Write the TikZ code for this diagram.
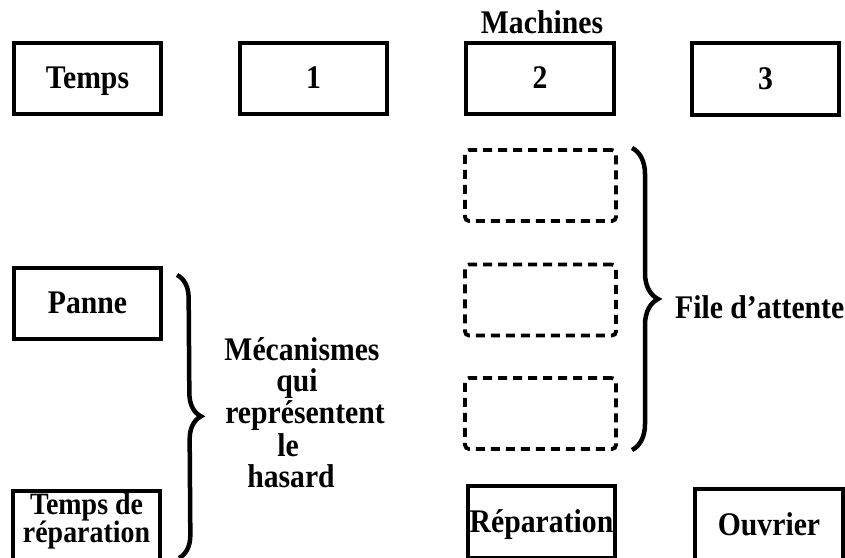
\documentclass[tikz,border=0pt]{standalone}
\usepackage{fontspec}
\setmainfont{Liberation Serif}[FakeStretch=0.9]
\usetikzlibrary{decorations.pathreplacing}
\begin{document}
\begin{tikzpicture}[x=1pt,y=-1pt,
  lbl/.style={font=\fontsize{33}{26}\selectfont\bfseries, inner sep=0pt},
  box/.style={lbl, draw, line width=3.8pt, minimum width=147.5pt, minimum height=71.5pt, align=center, text height=22pt, text depth=2pt},
  qbox/.style={draw, dash pattern=on 9pt off 6pt, line width=3.8pt, rounded corners=4pt, minimum width=151pt, minimum height=71pt, inner sep=0pt},
  bracestyle/.style={draw, line width=4.5pt, decorate, decoration={brace, amplitude=#1}}
]
\useasboundingbox (0,0) rectangle (845,557);
\clip (0,0) rectangle (845,557);
% top row
\node[box] (temps) at (87.5,78.5) {Temps};
\node[box] (m1) at (313.5,78.5) {1};
\node[box] (m2) at (540,78.5) {2};
\node[box] (m3) at (765.5,79) {3};
\node[lbl, anchor=base] (machines) at (542,33) {Machines};
% queue
\node[qbox] (q1) at (540.5,185.5) {};
\node[qbox] (q2) at (540.5,300) {};
\node[qbox] (q3) at (540.5,413.5) {};
\coordinate (rbt) at (632,148);
\coordinate (rbb) at (632,450);
\draw[bracestyle=26pt] (rbt) -- (rbb);
\node[lbl, anchor=base west] (file) at (675,318) {File d'attente};
% left
\node[box] (panne) at (87.5,303.5) {Panne};
\node[box] (trep) at (86.5,527) {};
\node[lbl, font=\fontsize{31}{26}\selectfont\bfseries, align=center, anchor=base] (treptxt) at (86.5,542) {Temps de\\[-2pt]réparation};
\coordinate (lbt) at (177,275);
\coordinate (lbb) at (179,558);
\draw[bracestyle=23pt] (lbt) -- (lbb);
\node[lbl, anchor=base] (t1) at (302,360) {Mécanismes};
\node[lbl, anchor=base] (t2) at (297,391) {qui};
\node[lbl, anchor=base] (t3) at (305,423) {représentent};
\node[lbl, anchor=base] (t4) at (288,456) {le};
\node[lbl, anchor=base] (t5) at (291,487) {hasard};
% bottom
\node[box] (rep) at (541.5,522) {Réparation};
\node[box] (ouv) at (769,525) {Ouvrier};
\end{tikzpicture}
\end{document}
